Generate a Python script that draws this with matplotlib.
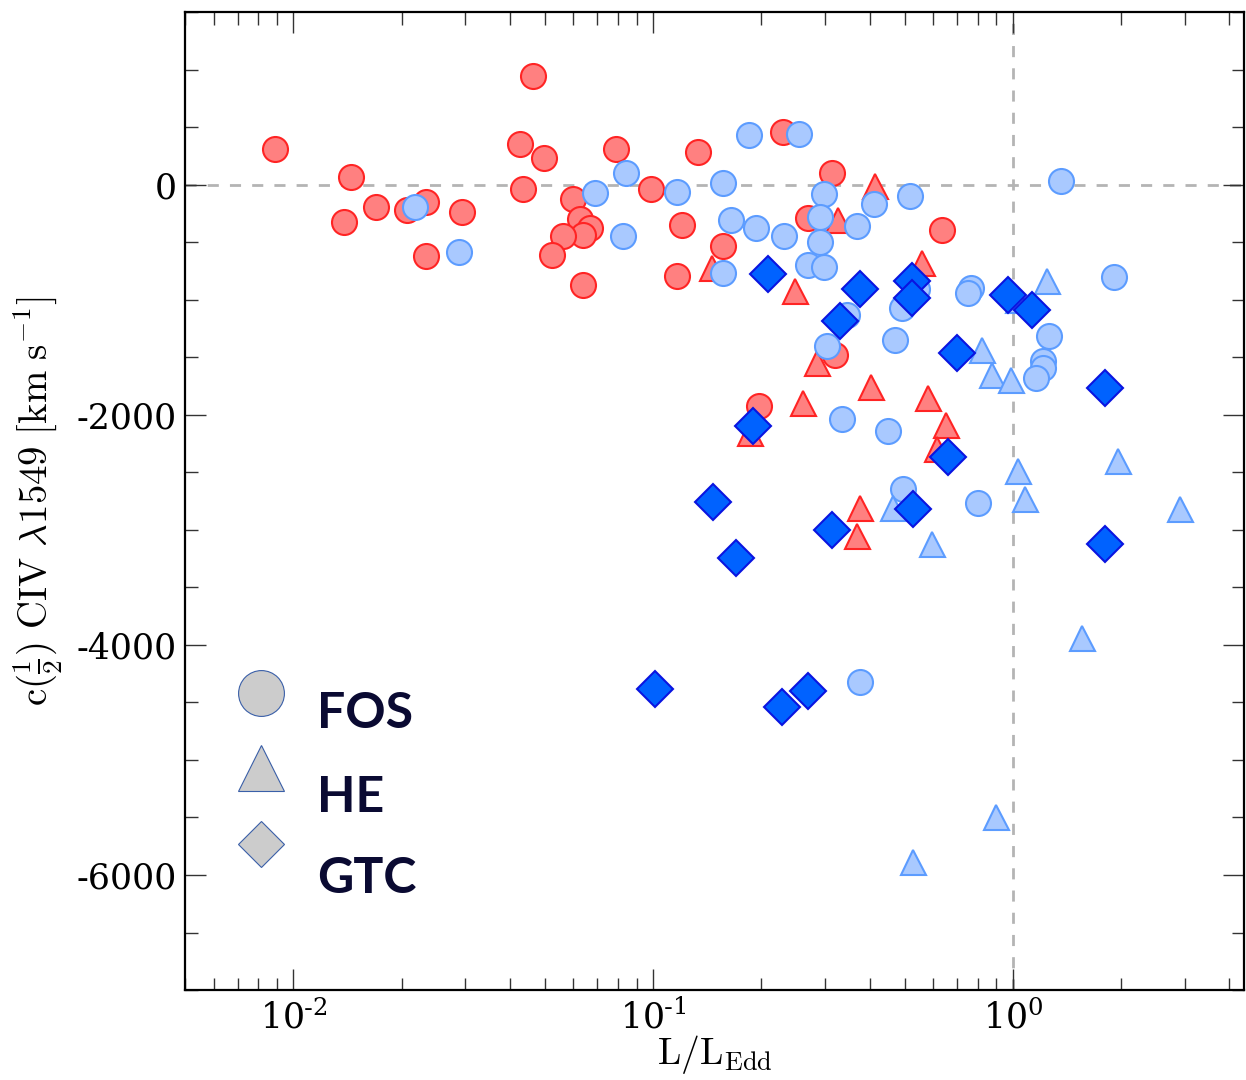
import matplotlib
matplotlib.use("Agg")
import matplotlib.pyplot as plt
from matplotlib.ticker import MultipleLocator, FuncFormatter, LogLocator, NullFormatter

plt.rcParams['font.family'] = ['DejaVu Serif']
plt.rcParams['mathtext.fontset'] = 'cm'
plt.rcParams['axes.unicode_minus'] = False

# FOS, red group (circles)
fos_red_x = [0.00891, 0.01446, 0.01698, 0.0138, 0.0207, 0.02338, 0.02942, 0.02341, 0.04634, 0.04254,
             0.0498, 0.04335, 0.05984, 0.06269, 0.06683, 0.06404, 0.056, 0.05234, 0.06404, 0.07878,
             0.09863, 0.1201, 0.1164, 0.1336, 0.1567, 0.2303, 0.3135, 0.27, 0.6364, 0.3204, 0.1969]
fos_red_y = [310, 63, -191, -321, -220, -148, -240, -619, 946, 353,
             234, -37, -124, -298, -373, -436, -451, -610, -870, 310,
             -37, -350, -798, 280, -538, 454, 98, -292, -399, -1478, -1926]

# HE, red group (triangles)
he_red_x = [0.1456, 0.248, 0.4138, 0.3271, 0.5574, 0.286, 0.4025, 0.2606, 0.5795, 0.6516,
            0.6138, 0.186, 0.3758, 0.3697]
he_red_y = [-726, -928, -10, -306, -683, -1551, -1761, -1898, -1859, -2091,
            -2302, -2158, -2809, -3054]

# FOS, blue group (circles)
fos_blue_x = [0.02173, 0.02878, 0.06902, 0.08395, 0.08267, 0.1164, 0.1848, 0.2549, 0.1567, 0.1643,
              0.1932, 0.2311, 0.1567, 0.2991, 0.291, 0.291, 0.27, 0.2991, 0.368, 0.4118,
              0.5176, 0.3451, 0.3037, 0.4699, 0.4908, 0.5398, 0.767, 0.7513, 1.359, 1.91,
              1.261, 1.214, 1.214, 1.156, 0.3357, 0.4505, 0.4938, 0.8009, 0.3758]
fos_blue_y = [-197, -590, -75, 98, -451, -67, 431, 436, 17, -306,
              -379, -451, -770, -81, -278, -499, -697, -718, -356, -167,
              -95, -1131, -1406, -1348, -1073, -911, -900, -943, 35, -801,
              -1319, -1536, -1594, -1681, -2037, -2143, -2649, -2764, -4327]

# HE, blue group (triangles)
he_blue_x = [1.241, 1.032, 0.8185, 0.876, 0.9872, 1.034, 1.08, 1.954, 2.911, 0.4632,
             0.5943, 1.557, 0.8968, 0.5286]
he_blue_y = [-836, -1006, -1440, -1657, -1701, -2490, -2736, -2404, -2823, -2809,
             -3126, -3937, -5499, -5889]

# GTC (diamonds)
gtc_x = [0.2083, 0.3758, 0.3307, 0.5234, 0.5234, 0.6978, 0.9667, 1.127, 1.801, 0.1892,
         0.6589, 0.1471, 0.17, 0.3135, 0.5286, 1.801, 0.1011, 0.2288, 0.269]
gtc_y = [-775, -908, -1189, -842, -987, -1464, -963, -1093, -1768, -2100,
         -2366, -2757, -3243, -3005, -2817, -3126, -4382, -4544, -4399]

legend_labels = ['FOS', 'HE', 'GTC']

red_face, red_edge = '#ff8080', '#ff2424'
blue_face, blue_edge = '#a9c9ff', '#5c9cff'
gtc_face, gtc_edge = '#0062ff', '#0a14e0'

fig = plt.figure(figsize=(12.46, 10.8), dpi=100)
ax = fig.add_axes([0.1485, 0.0833, 0.8502, 0.9056])

ax.axhline(0, color='#b4b4b4', lw=2, ls=(0, (4, 4)), zorder=1)
ax.axvline(1, color='#b4b4b4', lw=2, ls=(0, (4, 4)), zorder=1)

ms, mew = 18, 1.5
ax.plot(fos_red_x, fos_red_y, 'o', ms=ms, mfc=red_face, mec=red_edge, mew=mew, zorder=2)
ax.plot(he_red_x, he_red_y, '^', ms=ms, mfc=red_face, mec=red_edge, mew=mew, zorder=2)
ax.plot(fos_blue_x, fos_blue_y, 'o', ms=ms, mfc=blue_face, mec=blue_edge, mew=mew, zorder=3)
ax.plot(he_blue_x, he_blue_y, '^', ms=ms, mfc=blue_face, mec=blue_edge, mew=mew, zorder=3)
ax.plot(gtc_x, gtc_y, 'D', ms=ms, mfc=gtc_face, mec=gtc_edge, mew=mew, zorder=4)

ax.set_xscale('log')
ax.set_xlim(0.005, 4.4)
ax.set_ylim(-7000, 1500)

ax.yaxis.set_major_locator(MultipleLocator(2000))
ax.yaxis.set_minor_locator(MultipleLocator(500))
ax.yaxis.set_major_formatter(FuncFormatter(lambda v, p: '%d' % v))
ax.xaxis.set_major_locator(LogLocator(base=10))
ax.xaxis.set_minor_locator(LogLocator(base=10, subs=range(2, 10)))
ax.xaxis.set_minor_formatter(NullFormatter())


def log_fmt(v, p):
    import math
    e = int(round(math.log10(v)))
    if e < 0:
        return r'$\mathdefault{10^{\text{-}%d}}$' % (-e)
    return r'$\mathdefault{10^{%d}}$' % e


ax.xaxis.set_major_formatter(FuncFormatter(log_fmt))

ax.tick_params(which='both', direction='in', top=True, right=True, labelsize=25, width=1, color='#333333')
ax.tick_params(which='major', length=15)
ax.tick_params(which='minor', length=9)
ax.tick_params(axis='x', pad=7)
ax.tick_params(axis='y', pad=6)
for sp in ax.spines.values():
    sp.set_linewidth(1.6)

ax.set_xlabel(r'$\mathrm{L/L_{Edd}}$', fontsize=27, labelpad=-2)
ax.set_ylabel(r'$\mathrm{c}(\frac{1}{2})\ \mathrm{CIV}\ \lambda1549\ [\mathrm{km\ s^{-1}}]$', fontsize=28, labelpad=8)

# legend drawn by hand, markers above-left of the labels as in the original
leg_marker_y = [0.304, 0.2267, 0.149]
leg_text_y = [0.268, 0.1823, 0.0992]
for mk, size, my, ty, lab in zip(['o', '^', 'D'], [33, 33, 23.4], leg_marker_y, leg_text_y, legend_labels):
    ax.plot([0.0717], [my], mk, ms=size, mfc='#cccccc', mec='#3a5fa8', mew=0.8,
            transform=ax.transAxes, clip_on=False, zorder=5)
    ax.text(0.1247, ty, lab, transform=ax.transAxes, fontsize=36, fontweight='bold',
            family=['Lato', 'DejaVu Sans'], color='#0a0a32', va='baseline', ha='left', zorder=5)

fig.savefig('out.png', dpi=100)
